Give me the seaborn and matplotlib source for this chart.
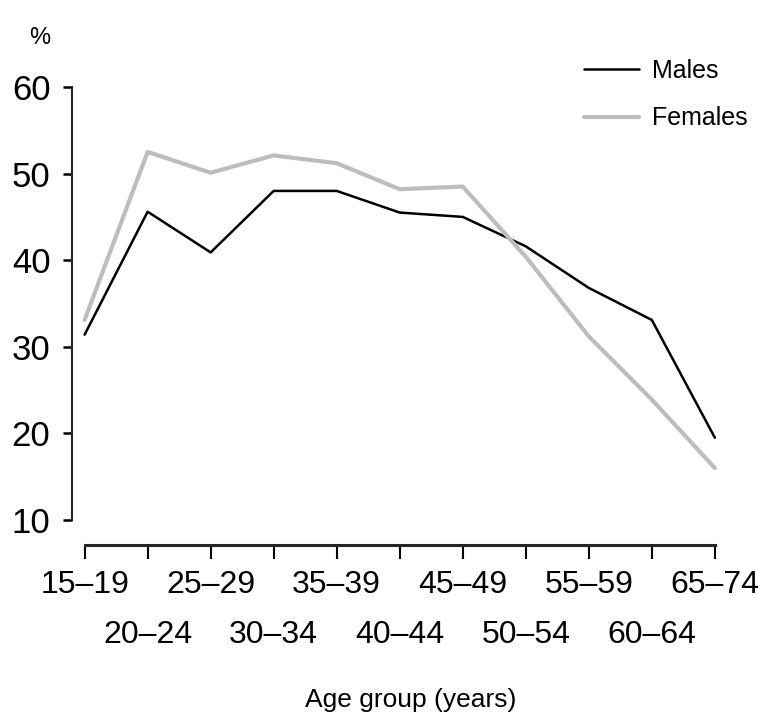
import matplotlib
matplotlib.use("Agg")
import matplotlib.pyplot as plt
import pandas as pd
import seaborn as sns

sns.set_style("ticks")
plt.rcParams['font.family'] = ['Liberation Sans', 'DejaVu Sans']
plt.rcParams['text.color'] = 'black'

## Data
age_groups = ["15–19", "20–24", "25–29", "30–34", "35–39", "40–44",
              "45–49", "50–54", "55–59", "60–64", "65–74"]
males = [31.4, 45.6, 40.9, 48.0, 48.0, 45.5, 45.0, 41.6, 36.8, 33.1, 19.5]
females = [33.1, 52.5, 50.1, 52.1, 51.2, 48.2, 48.5, 40.4, 31.2, 23.9, 16.0]
y_ticks = [10, 20, 30, 40, 50, 60]

df = pd.DataFrame({"Age": age_groups * 2,
                   "Percent": males + females,
                   "Sex": ["Males"] * len(males) + ["Females"] * len(females)})

fig = plt.figure(figsize=(7.79, 7.23), dpi=100)
ax = fig.add_axes([72 / 779, 1 - 520 / 723, (718 - 72) / 779, (520 - 87) / 723])

sns.lineplot(data=df[df.Sex == "Males"], x="Age", y="Percent", color="black",
             linewidth=1.8, label="Males", ax=ax, sort=False)
sns.lineplot(data=df[df.Sex == "Females"], x="Age", y="Percent", color="#bdbdbd",
             linewidth=3.0, label="Females", ax=ax, sort=False)

ax.set_ylim(10, 60)
ax.set_xlim(-0.2, 10.05)
ax.set_yticks(y_ticks)

## two rows of x labels: even groups on major ticks, odd groups on minor ticks
pos = list(range(len(age_groups)))
ax.set_xticks(pos[0::2])
ax.set_xticklabels(age_groups[0::2])
ax.set_xticks(pos[1::2], minor=True)
ax.set_xticklabels(age_groups[1::2], minor=True)

for s in ["top", "right"]:
    ax.spines[s].set_visible(False)
ax.spines["left"].set_linewidth(1.5)
ax.spines["left"].set_bounds(10, 60)
ax.spines["bottom"].set_position(("outward", 18))
ax.spines["bottom"].set_bounds(0, 10)
ax.spines["bottom"].set_linewidth(2.2)

ax.tick_params(axis="y", length=6.5, width=1.8, pad=9, labelsize=25, colors="black")
ax.tick_params(axis="x", which="major", length=10, width=1.5, pad=8, labelsize=23, colors="black")
ax.tick_params(axis="x", which="minor", length=10, width=1.5, pad=44, labelsize=23, colors="black")

ax.set_ylabel("")
ax.set_xlabel("Age group (years)", fontsize=19, color="black", va="center")
ax.xaxis.set_label_coords((411 - 72) / 646, (520 - 700) / 433)
fig.text(40 / 779, 1 - 38 / 723, "%", fontsize=17, ha="center", va="center")

ax.legend(loc="upper right", bbox_to_anchor=(760 / 779, 1 - 46 / 723),
          bbox_transform=fig.transFigure, frameon=False, fontsize=18,
          handlelength=2.2, handletextpad=0.5, labelspacing=0.95, borderpad=0)

fig.savefig("out.png", dpi=100)
